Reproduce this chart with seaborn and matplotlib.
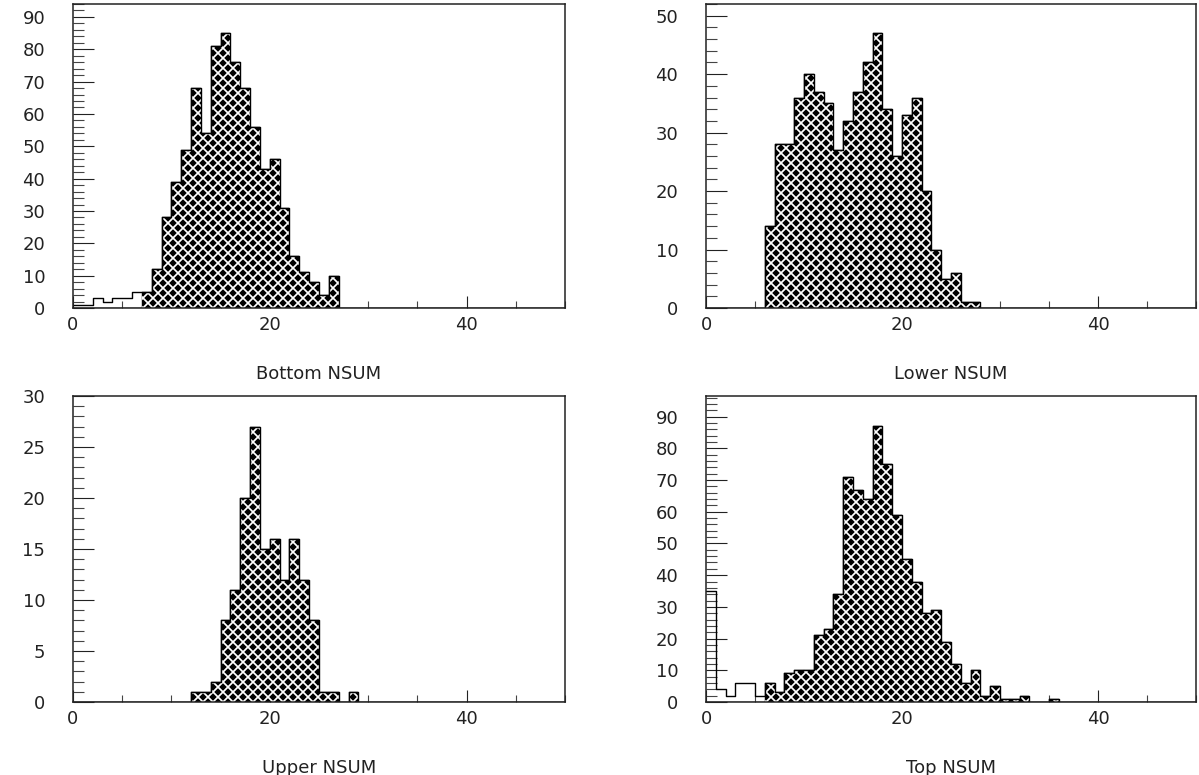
import numpy as np
import matplotlib
matplotlib.use("Agg")
import matplotlib.pyplot as plt
import seaborn as sns
from matplotlib.ticker import MultipleLocator
from matplotlib.path import Path
from matplotlib.collections import LineCollection
from matplotlib.transforms import Affine2D

sns.set_theme(style="white")
plt.rcParams['font.family'] = ['DejaVu Sans']

# ---- data: counts per unit-wide NSUM bin, first entry is bin [0,1) ----
bottom_counts = [1, 1, 3, 2, 3, 3, 5, 5, 12, 28, 39, 49, 68, 54, 81, 85, 76, 68,
                 56, 43, 46, 31, 16, 11, 8, 4, 10]
bottom_hatch_from = 7

lower_counts = [0, 0, 0, 0, 0, 0, 14, 28, 28, 36, 40, 37, 35, 27, 32, 37, 42, 47,
                34, 26, 33, 36, 20, 10, 5, 6, 1, 1]
lower_hatch_from = 6

upper_counts = [0, 0, 0, 0, 0, 0, 0, 0, 0, 0, 0, 0, 1, 1, 2, 8, 11, 20, 27, 15,
                16, 12, 16, 12, 8, 1, 1, 0, 1]
upper_hatch_from = 12

top_counts = [35, 4, 2, 6, 6, 2, 6, 3, 9, 10, 10, 21, 23, 34, 71, 67, 64, 87, 75,
              59, 45, 38, 28, 29, 19, 12, 6, 10, 2, 5, 1, 1, 2, 0, 0, 1]
top_hatch_from = 6

labels = ["Bottom NSUM", "Lower NSUM", "Upper NSUM", "Top NSUM"]
x_ticks = [0, 20, 40]
# -----------------------------------------------------------------------

N_BINS = 50
centers = np.arange(N_BINS) + 0.5
PERIOD = 10.0  # pixel period of the cross-hatch texture

fig = plt.figure(figsize=(11.99, 7.75), dpi=100)
W, H = 1199.0, 775.0


def make_ax(l, t, r, b):
    ax = fig.add_axes([l / W, 1 - b / H, (r - l) / W, (b - t) / H])
    return ax, (r - l), (b - t)


def crosshatch(ax, patches, wpx, hpx):
    rects = [p.get_path().transformed(p.get_patch_transform())
             for p in patches if p.get_height() > 0]
    if not rects:
        return
    clip = Path.make_compound_path(*rects)
    segs = []
    kmin = int(-wpx // PERIOD) - 2
    kmax = int(hpx // PERIOD) + 2
    for k in range(kmin, kmax + 1):
        c = k * PERIOD
        segs.append([(-20, -20 + c), (wpx + 20, wpx + 20 + c)])
    for k in range(-2, int((wpx + hpx) // PERIOD) + 3):
        c = k * PERIOD
        segs.append([(-20, 20 + c), (wpx + 20, -wpx - 20 + c)])
    tr = Affine2D().scale(1.0 / wpx, 1.0 / hpx) + ax.transAxes
    lc = LineCollection(segs, colors="white", linewidths=1.25, transform=tr,
                        zorder=1.5)
    ax.add_collection(lc, autolim=False)
    lc.set_clip_path(clip, ax.transData)


def draw(ax, wpx, hpx, counts, hatch_from, ymax, ymajor, yminor, label):
    full = np.zeros(N_BINS)
    full[:len(counts)] = counts
    hatched = full.copy()
    hatched[:hatch_from] = 0
    sns.histplot(x=centers, weights=hatched, binwidth=1, binrange=(0, N_BINS),
                 element="bars", fill=True, ax=ax)
    bars = list(ax.patches)
    for p in bars:
        p.set_facecolor("black")
        p.set_edgecolor("black")
        p.set_alpha(1)
        p.set_linewidth(0.3)
    sns.histplot(x=centers, weights=full, binwidth=1, binrange=(0, N_BINS),
                 element="step", fill=False, color="black", linewidth=1.0, ax=ax)
    for ln in ax.lines:
        ln.set_zorder(3)
    ax.set_xlim(0, 50)
    ax.set_ylim(0, ymax)
    crosshatch(ax, bars, wpx, hpx)
    ax.set_xticks(x_ticks)
    ax.set_xticklabels([str(v) for v in x_ticks])
    ax.xaxis.set_minor_locator(MultipleLocator(5))
    ax.yaxis.set_major_locator(MultipleLocator(ymajor))
    ax.yaxis.set_minor_locator(MultipleLocator(yminor))
    ax.tick_params(axis="y", which="major", direction="in", length=15, width=0.8,
                   left=True, right=False, pad=20, labelsize=13, colors="#222222")
    ax.tick_params(axis="y", which="minor", direction="in", length=8, width=0.8,
                   left=True, right=False, colors="#444444")
    ax.tick_params(axis="x", which="major", direction="in", length=9, width=0.8,
                   bottom=True, top=False, pad=6, labelsize=13, colors="#222222")
    ax.tick_params(axis="x", which="minor", direction="in", length=5, width=0.8,
                   bottom=True, top=False, colors="#444444")
    ax.set_ylabel("")
    ax.set_xlabel(label, fontsize=13, color="#222222", labelpad=22)
    for s in ax.spines.values():
        s.set_color("#222222")
        s.set_linewidth(1.1)
        s.set_zorder(4)
    ax.grid(False)


ax1, w1, h1 = make_ax(73, 4, 565, 308)
ax2, w2, h2 = make_ax(706, 4, 1196, 308)
ax3, w3, h3 = make_ax(73, 396, 565, 702)
ax4, w4, h4 = make_ax(706, 396, 1196, 702)

draw(ax1, w1, h1, bottom_counts, bottom_hatch_from, 94, 10, 2, labels[0])
draw(ax2, w2, h2, lower_counts, lower_hatch_from, 52, 10, 2, labels[1])
draw(ax3, w3, h3, upper_counts, upper_hatch_from, 30, 5, 1, labels[2])
draw(ax4, w4, h4, top_counts, top_hatch_from, 96.5, 10, 2, labels[3])

fig.savefig("out.png", dpi=100, facecolor="white")
